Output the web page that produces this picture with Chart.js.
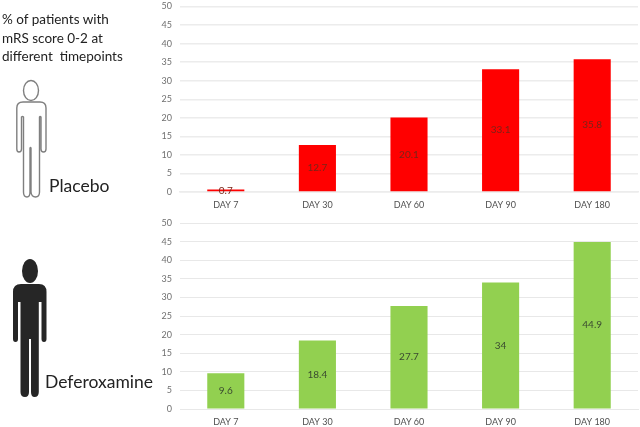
<!DOCTYPE html>
<html>
<head>
<meta charset="utf-8">
<script src="https://cdn.jsdelivr.net/npm/chart.js@4"></script>
<style>
html,body{margin:0;padding:0;background:#fff;width:640px;height:427px;overflow:hidden}
canvas{position:absolute;left:0}
#c1{top:0}
#c2{top:213px}
svg{position:absolute;left:0;top:0}
.t{position:absolute;font-family:Lato,"Open Sans",sans-serif;color:#222;white-space:pre;line-height:1}
</style>
</head>
<body>
<canvas id="c1" width="640" height="213" style="width:640px;height:213px"></canvas>
<canvas id="c2" width="640" height="214" style="width:640px;height:214px"></canvas>
<svg width="170" height="427" viewBox="0 0 170 427">
<ellipse cx="31" cy="90.5" rx="7.5" ry="10" fill="#fff" stroke="#7f7f7f" stroke-width="1.4"/>
<path d="M16.8,108 Q16.8,102 23,102 L40,102 Q46,102 46,108 L46,149 Q46,152 43.5,152 Q41,152 41,149 L41,117 Q40,116 39.5,117 L39.5,192 Q39.5,197 35.5,197 Q31.5,197 31,192 L31,148 Q30.5,147 30,148 L30,192 Q30,197 27,197 Q23.5,197 23.5,192 L23.5,117 Q22.5,116 21.5,117 L21.5,149 Q21.5,152 19,152 Q16.8,152 16.8,149 Z" fill="#fff" stroke="#7f7f7f" stroke-width="1.4"/>
<ellipse cx="30" cy="271" rx="8" ry="12" fill="#262626"/>
<path d="M13,292 Q13,284 21,284 L39,284 Q46.5,284 46.5,292 L46.5,339 Q46.5,342 44,342 Q41.5,342 41.5,339 L41.5,302 L38.8,302 L38.8,392 Q38.8,397 34.5,397 Q31,397 31,392 L31,339 L29,339 L29,392 Q29,397 25,397 Q20.5,397 20.5,392 L20.5,302 L18,302 L18,339 Q18,342 15.5,342 Q13,342 13,339 Z" fill="#262626"/>
</svg>
<div class="t" style="left:2px;top:10px;font-size:13.5px;line-height:18.5px">% of patients with
mRS score 0-2 at
different  timepoints</div>
<div class="t" style="left:49px;top:177px;font-size:17.5px">Placebo</div>
<div class="t" style="left:45px;top:373px;font-size:17.5px">Deferoxamine</div>
<script>
const categories = ["DAY 7", "DAY 30", "DAY 60", "DAY 90", "DAY 180"];
const placeboValues = [0.7, 12.7, 20.1, 33.1, 35.8];
const deferoxamineValues = [9.6, 18.4, 27.7, 34, 44.9];

const centerLabels = {
  id: "centerLabels",
  afterDatasetsDraw(chart, args, opts) {
    const ctx = chart.ctx;
    const values = chart.data.datasets[0].data;
    chart.getDatasetMeta(0).data.forEach((bar, i) => {
      ctx.save();
      ctx.font = "10px Lato, 'Open Sans', sans-serif";
      ctx.fillStyle = opts.color;
      ctx.textAlign = "center";
      ctx.textBaseline = "middle";
      ctx.fillText(String(values[i]), bar.x, (bar.y + bar.base) / 2);
      ctx.restore();
    });
  }
};

function makeChart(id, values, color, labelColor, topPad, xHeight, gridColor, gridWidth) {
  return new Chart(document.getElementById(id), {
    type: "bar",
    data: {
      labels: categories,
      datasets: [{ data: values, backgroundColor: color, barPercentage: 0.405, categoryPercentage: 1, minBarLength: 2.5 }]
    },
    plugins: [centerLabels],
    options: {
      responsive: false,
      animation: false,
      layout: { padding: { top: topPad, right: 2, left: 0, bottom: 0 } },
      plugins: {
        legend: { display: false },
        title: { display: false },
        tooltip: { enabled: false },
        centerLabels: { color: labelColor }
      },
      scales: {
        x: {
          afterFit(s) { s.height = xHeight; },
          grid: { display: false },
          border: { color: gridColor, width: gridWidth },
          ticks: { color: "#505050", font: { family: "Lato, 'Open Sans', sans-serif", size: 9 }, padding: 0, maxRotation: 0 }
        },
        y: {
          min: 0,
          max: 50,
          afterFit(s) { s.width = 180; s.paddingTop = 0; s.paddingBottom = 0; },
          grid: { color: gridColor, lineWidth: gridWidth, drawTicks: false },
          border: { display: false },
          ticks: { stepSize: 5, color: "#707070", font: { family: "Lato, 'Open Sans', sans-serif", size: 9 }, padding: 8 }
        }
      }
    }
  });
}

makeChart("c1", placeboValues, "#ff0000", "#7a2418", 6.5, 21, "#ececec", 1.5);
makeChart("c2", deferoxamineValues, "#92d050", "#3a4a30", 10, 18, "#e8e8e8", 1);
</script>
</body>
</html>
